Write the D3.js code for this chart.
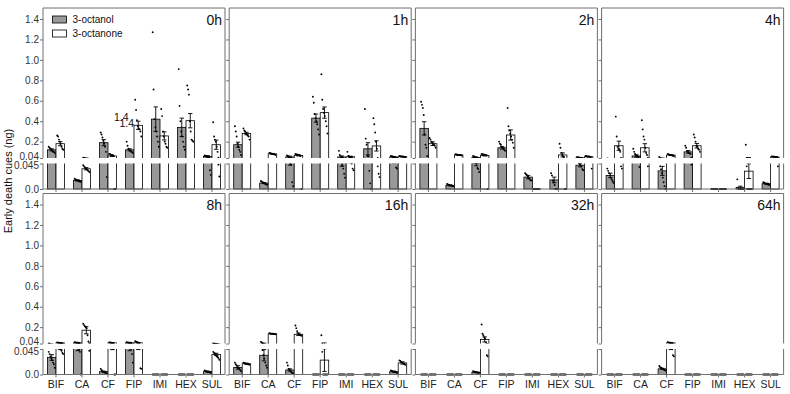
<!DOCTYPE html>
<html>
<head>
<meta charset="utf-8">
<script src="https://cdn.jsdelivr.net/npm/d3@7"></script>
<style>
  body { margin: 0; background: #fff; }
  text { font-family: "Liberation Sans", Arial, sans-serif; }
</style>
</head>
<body>
<svg id="chart" width="790" height="394"></svg>
<script>
// time points and compounds
var times = ["0h", "1h", "2h", "4h", "8h", "16h", "32h", "64h"];
var categories = ["BIF", "CA", "CF", "FIP", "IMI", "HEX", "SUL"];
var series = ["3-octanol", "3-octanone"];
var upperTicks = [0.04, 0.2, 0.4, 0.6, 0.8, 1.0, 1.2, 1.4];
var upperTickLabels = ["0.04", "0.2", "0.4", "0.6", "0.8", "1.0", "1.2", "1.4"];
var lowerTicks = [0, 0.045];
var lowerTickLabels = ["0.0", "0.045"];

// means (ng), one row per time point
var octanolMean = [
  [0.12, 0.015, 0.19, 0.12, 0.42, 0.34, 0.055],
  [0.17, 0.0105, 0.05, 0.43, 0.05, 0.13, 0.05],
  [0.33, 0.0065, 0.045, 0.14, 0.021, 0.016, 0.042],
  [0.024, 0.06, 0.032, 0.1, 0, 0.003, 0.0094],
  [0.03, 0.046, 0.005, 0.046, 0, 0, 0.005],
  [0.0125, 0.034, 0.008, 0, 0, 0, 0.005],
  [0, 0, 0.004, 0, 0, 0, 0],
  [0, 0, 0.01, 0, 0, 0, 0]
];
var octanolSE = [
  [0.01, 0.001, 0.03, 0.01, 0.12, 0.09, 0.008],
  [0.025, 0.001, 0.008, 0.04, 0.01, 0.06, 0.004],
  [0.065, 0.001, 0.004, 0.012, 0.003, 0.005, 0.003],
  [0.004, 0.012, 0.008, 0.012, 0, 0.002, 0.001],
  [0.005, 0.004, 0.001, 0.004, 0, 0, 0.001],
  [0.003, 0.01, 0.002, 0, 0, 0, 0.001],
  [0, 0, 0.0005, 0, 0, 0, 0],
  [0, 0, 0.001, 0, 0, 0, 0]
];
var octanoneMean = [
  [0.18, 0.0357, 0.06, 0.36, 0.256, 0.405, 0.17],
  [0.28, 0.08, 0.065, 0.484, 0.052, 0.158, 0.052],
  [0.18, 0.07, 0.065, 0.265, 0, 0.07, 0.052],
  [0.16, 0.14, 0.069, 0.16, 0, 0.0315, 0.05],
  [0.046, 0.17, 0.046, 0.046, 0, 0, 0.0355],
  [0.019, 0.135, 0.13, 0.0254, 0, 0, 0.0204],
  [0, 0, 0.08, 0, 0, 0, 0],
  [0, 0, 0.046, 0, 0, 0, 0]
];
var octanoneSE = [
  [0.02, 0.002, 0.005, 0.04, 0.04, 0.07, 0.045],
  [0.012, 0.003, 0.005, 0.055, 0.006, 0.05, 0.002],
  [0.018, 0.003, 0.005, 0.05, 0, 0.02, 0.003],
  [0.045, 0.04, 0.003, 0.022, 0, 0.013, 0.002],
  [0.002, 0.035, 0.002, 0.002, 0, 0, 0.002],
  [0.001, 0.003, 0.012, 0.02, 0, 0, 0.002],
  [0, 0, 0.025, 0, 0, 0, 0],
  [0, 0, 0.002, 0, 0, 0, 0]
];

// individual replicates
var Z8 = [0, 0, 0, 0, 0, 0, 0, 0];
var octanolPoints = [
  [ [0.15,0.14,0.13,0.12,0.11,0.1,0.1,0.09],
    [0.018,0.017,0.016,0.015,0.015,0.014,0.013,0.013],
    [0.29,0.27,0.24,0.21,0.18,0.15,0.1,0.021],
    [0.2,0.16,0.13,0.12,0.11,0.1,0.1,0.09],
    [1.27,0.71,0.42,0.34,0.3,0.25,0.2,0.15],
    [0.91,0.55,0.4,0.3,0.25,0.2,0.15,0.12],
    [0.065,0.06,0.058,0.055,0.05,0.048,0.033,0.025] ],
  [ [0.35,0.3,0.25,0.18,0.15,0.12,0.1,0.07],
    [0.014,0.013,0.012,0.011,0.01,0.009,0.008,0.008],
    [0.065,0.06,0.055,0.05,0.044,0.043,0.012,0.005],
    [0.64,0.58,0.47,0.43,0.4,0.37,0.32,0.27],
    [0.11,0.07,0.055,0.05,0.042,0.036,0.027,0.02],
    [0.52,0.23,0.17,0.06,0.057,0.032,0.01,0],
    [0.06,0.058,0.055,0.052,0.05,0.048,0.038,0.036] ],
  [ [0.59,0.56,0.53,0.46,0.27,0.17,0.14,0.06],
    [0.009,0.008,0.007,0.0065,0.006,0.006,0.005,0.005],
    [0.06,0.055,0.05,0.048,0.045,0.037,0.035,0.03],
    [0.2,0.18,0.17,0.15,0.14,0.13,0.12,0.11],
    [0.028,0.026,0.025,0.022,0.02,0.018,0.016,0.015],
    [0.028,0.024,0.015,0.012,0.007,0,0,0],
    [0.05,0.048,0.046,0.044,0.042,0.04,0.035,0.033] ],
  [ [0.036,0.032,0.028,0.024,0.02,0.017,0.014,0.011],
    [0.13,0.1,0.08,0.065,0.06,0.055,0.05,0.039],
    [0.05,0.04,0.035,0.028,0.02,0.012,0.005,0],
    [0.16,0.14,0.11,0.1,0.09,0.085,0.08,0.043],
    Z8,
    [0.017,0.002,0,0,0,0,0,0],
    [0.012,0.011,0.01,0.0095,0.009,0.008,0.008,0.007] ],
  [ [0.04,0.036,0.032,0.028,0.025,0.021,0.018,0.012],
    [0.052,0.05,0.049,0.048,0.047,0.044,0.04,0],
    [0.01,0.008,0.006,0.005,0.004,0.003,0.003,0.002],
    [0.052,0.05,0.049,0.048,0.047,0.045,0.036,0.021],
    Z8,
    Z8,
    [0.007,0.006,0.006,0.005,0.005,0.004,0.004,0.003] ],
  [ [0.021,0.018,0.016,0.013,0.011,0.01,0.008,0.006],
    [0.056,0.05,0.043,0.034,0.028,0.021,0.016,0.012],
    [0.021,0.016,0.01,0.008,0.006,0.004,0.003,0.002],
    Z8,
    Z8,
    Z8,
    [0.007,0.006,0.006,0.005,0.005,0.004,0.004,0.003] ],
  [ Z8, Z8,
    [0.006,0.005,0.005,0.004,0.004,0.003,0.003,0.003],
    Z8, Z8, Z8, Z8 ],
  [ Z8, Z8,
    [0.015,0.013,0.012,0.011,0.01,0.009,0.008,0.007],
    Z8, Z8, Z8, Z8 ]
];
var octanonePoints = [
  [ [0.26,0.25,0.22,0.2,0.18,0.15,0.13,0.12],
    [0.042,0.04,0.038,0.036,0.035,0.033,0.032,0.03],
    [0.08,0.08,0.07,0.07,0.07,0.06,0,0],
    [0.61,0.51,0.41,0.35,0.33,0.32,0.3,0.25],
    [0.52,0.45,0.3,0.25,0.2,0.18,0.15,0.14],
    [0.75,0.71,0.66,0.4,0.3,0.22,0.21,0.2],
    [0.39,0.25,0.22,0.2,0.15,0.1,0.043,0.022] ],
  [ [0.33,0.31,0.3,0.28,0.27,0.26,0.25,0.22],
    [0.09,0.088,0.085,0.082,0.08,0.078,0.075,0.07],
    [0.08,0.075,0.075,0.07,0.07,0.065,0.06,0],
    [0.86,0.61,0.52,0.48,0.45,0.4,0.35,0.28],
    [0.1,0.06,0.055,0.05,0.05,0.045,0.036,0.033],
    [0.43,0.37,0.29,0.2,0.13,0.04,0.027,0.021],
    [0.06,0.058,0.056,0.055,0.054,0.052,0.05,0.05] ],
  [ [0.235,0.22,0.2,0.19,0.18,0.17,0.16,0.14],
    [0.076,0.074,0.072,0.07,0.07,0.068,0.066,0.064],
    [0.08,0.078,0.075,0.072,0.07,0.068,0.065,0],
    [0.53,0.35,0.31,0.28,0.25,0.22,0.19,0.14],
    Z8,
    [0.18,0.14,0.09,0.07,0.057,0.05,0,0],
    [0.06,0.058,0.056,0.055,0.054,0.052,0.05,0.036] ],
  [ [0.445,0.25,0.15,0.13,0.12,0.1,0.04,0.036],
    [0.41,0.32,0.25,0.22,0.14,0.09,0.07,0.04],
    [0.08,0.075,0.072,0.07,0.068,0.065,0.062,0.06],
    [0.27,0.24,0.2,0.16,0.15,0.13,0.12,0.1],
    Z8,
    [0.17,0.04,0,0,0,0,0,0],
    [0.055,0.054,0.053,0.052,0.051,0.05,0.05,0.04] ],
  [ [0.05,0.048,0.047,0.045,0.044,0.042,0.038,0.036],
    [0.233,0.22,0.21,0.2,0.19,0.12,0.06,0.042],
    [0.05,0.05,0.048,0.047,0.046,0.045,0,0],
    [0.062,0.058,0.055,0.05,0.048,0.046,0.011,0.01],
    Z8,
    Z8,
    [0.04,0.038,0.037,0.034,0.032,0.031,0.029,0.026] ],
  [ [0.021,0.02,0.02,0.019,0.019,0.018,0.018,0.017],
    [0.14,0.138,0.136,0.135,0.135,0.134,0.132,0.13],
    [0.216,0.19,0.16,0.14,0.13,0.125,0.12,0.115],
    [0.12,0.04,0,0,0,0,0,0],
    Z8,
    Z8,
    [0.025,0.024,0.022,0.021,0.02,0.019,0.018,0.017] ],
  [ Z8, Z8,
    [0.226,0.135,0.12,0.1,0.09,0.05,0.034,0.032],
    Z8, Z8, Z8, Z8 ],
  [ Z8, Z8,
    [0.052,0.05,0.048,0.047,0.046,0.045,0.034,0.032],
    Z8, Z8, Z8, Z8 ]
];

var means = [octanolMean, octanoneMean];
var ses = [octanolSE, octanoneSE];
var points = [octanolPoints, octanonePoints];
var fills = ["#999999", "#ffffff"];

// layout
var panelLeft = 43, panelStep = 186.2, panelW = 182;
var rowTop0 = 8, rowStep = 185.5;
var frameColor = "#6e6e6e";

var svg = d3.select("#chart");

var x = d3.scaleBand().domain(categories).range([0, panelW]);
var barW = 8.5;
var xs = d3.scaleBand().domain(series)
    .range([x.bandwidth() / 2 - barW, x.bandwidth() / 2 + barW]);

times.forEach(function(t, p) {
  var col = p % 4, row = Math.floor(p / 4);
  var left = panelLeft + col * panelStep;
  var top = rowTop0 + row * rowStep;

  var yUp = d3.scaleLinear().domain([0.04, 1.4]).range([top + 150, top + 11]);
  var yLo = d3.scaleLinear().domain([0, 0.045]).range([top + 181, top + 155.5]);
  var upBottom = yUp(0.04), loTop = yLo(0.045), zeroY = yLo(0);

  var g = svg.append("g").attr("transform", "translate(" + left + ",0)");

  var defs = svg.append("defs");
  defs.append("clipPath").attr("id", "cu" + p)
    .append("rect").attr("x", 0).attr("y", top).attr("width", panelW).attr("height", upBottom - top);
  defs.append("clipPath").attr("id", "cl" + p)
    .append("rect").attr("x", 0).attr("y", loTop).attr("width", panelW).attr("height", zeroY - loTop + 2.5);

  var sections = [
    { y: yUp, clip: "cu" + p, base: upBottom + 12 },
    { y: yLo, clip: "cl" + p, base: zeroY }
  ];

  sections.forEach(function(sec) {
    var sg = g.append("g").attr("clip-path", "url(#" + sec.clip + ")");
    series.forEach(function(s, k) {
      var mean = means[k][p], se = ses[k][p], pts = points[k][p];
      var grp = sg.append("g");
      // bars
      grp.selectAll("rect.bar")
        .data(categories)
        .enter().append("rect")
        .attr("class", "bar")
        .attr("x", function(c) { return x(c) + xs(s); })
        .attr("width", xs.bandwidth())
        .attr("y", function(c, i) { return sec.y(mean[i]); })
        .attr("height", function(c, i) { return Math.max(0, sec.base - sec.y(mean[i])); })
        .attr("fill", fills[k])
        .attr("stroke", "#000")
        .attr("stroke-width", 0.8);
      // error bars
      categories.forEach(function(c, i) {
        if (se[i] <= 0) return;
        var cx = x(c) + xs(s) + xs.bandwidth() / 2;
        var y1 = sec.y(mean[i] + se[i]), y0 = sec.y(Math.max(0, mean[i] - se[i]));
        grp.append("line").attr("x1", cx).attr("x2", cx).attr("y1", y1).attr("y2", y0)
          .attr("stroke", "#000").attr("stroke-width", 0.9);
        [y1, y0].forEach(function(yy) {
          grp.append("line").attr("x1", cx - 2.2).attr("x2", cx + 2.2).attr("y1", yy).attr("y2", yy)
            .attr("stroke", "#000").attr("stroke-width", 0.9);
        });
      });
      // replicate dots spread across bar width
      categories.forEach(function(c, i) {
        var vals = pts[i];
        var bx = x(c) + xs(s);
        grp.selectAll(null)
          .data(vals)
          .enter().append("circle")
          .attr("cx", function(v, j) { return bx + 1.2 + j * (xs.bandwidth() - 2.4) / (vals.length - 1); })
          .attr("cy", function(v) { return sec.y(v); })
          .attr("r", 0.95)
          .attr("fill", "#000");
      });
    });
  });

  // frame (broken at the axis gap)
  var fr = g.append("g").attr("stroke", frameColor).attr("stroke-width", 1).attr("fill", "none");
  fr.append("line").attr("x1", 0).attr("x2", panelW).attr("y1", top).attr("y2", top);
  fr.append("line").attr("x1", 0).attr("x2", panelW).attr("y1", zeroY).attr("y2", zeroY);
  [0, panelW].forEach(function(xx) {
    fr.append("line").attr("x1", xx).attr("x2", xx).attr("y1", top).attr("y2", upBottom);
    fr.append("line").attr("x1", xx).attr("x2", xx).attr("y1", loTop).attr("y2", zeroY);
  });

  // y axes (ticks on every panel, labels on the left column)
  var axUp = d3.axisLeft(yUp).tickValues(upperTicks).tickSize(3).tickSizeOuter(0)
    .tickFormat(function(d, i) { return col === 0 ? upperTickLabels[i] : ""; });
  var axLo = d3.axisLeft(yLo).tickValues(lowerTicks).tickSize(3).tickSizeOuter(0)
    .tickFormat(function(d, i) { return col === 0 ? lowerTickLabels[i] : ""; });
  [axUp, axLo].forEach(function(ax) {
    var a = g.append("g").call(ax);
    a.select(".domain").remove();
    a.selectAll(".tick line").attr("stroke", frameColor);
    a.selectAll(".tick text").attr("fill", "#333").attr("font-size", 10)
      .attr("font-family", "Liberation Sans, Arial, sans-serif").attr("x", -4);
  });
  // nudge the two labels at the break apart a little
  g.selectAll(".tick text").filter(function(d) { return d === 0.04; }).attr("dy", "0.12em");
  g.selectAll(".tick text").filter(function(d) { return d === 0.045; }).attr("dy", "0.5em");

  // x axis
  var axX = d3.axisBottom(x).tickSize(3).tickSizeOuter(0)
    .tickFormat(function(d) { return row === 1 ? d : ""; });
  var xa = g.append("g").attr("transform", "translate(0," + zeroY + ")").call(axX);
  xa.select(".domain").remove();
  xa.selectAll(".tick line").attr("stroke", frameColor);
  xa.selectAll(".tick text").attr("fill", "#222").attr("font-size", 10.5)
    .attr("font-family", "Liberation Sans, Arial, sans-serif").attr("y", 6);

  // time label
  g.append("text").attr("x", panelW - 3).attr("y", top + 16.5)
    .attr("text-anchor", "end").attr("font-size", 14).attr("fill", "#111").text(t);
});

// legend inside the first panel
var leg = svg.append("g").attr("transform", "translate(52.5,16)");
series.forEach(function(s, k) {
  leg.append("rect").attr("x", 0).attr("y", k * 14).attr("width", 14).attr("height", 7)
    .attr("fill", fills[k]).attr("stroke", "#000").attr("stroke-width", 0.8);
  leg.append("text").attr("x", 20).attr("y", k * 14 + 7).attr("font-size", 10)
    .attr("fill", "#111").text(s);
});

// stray labels in the first panel
svg.append("text").attr("x", 114).attr("y", 120.5).attr("font-size", 10.5).attr("fill", "#111").text("1.4");
svg.append("text").attr("x", 119.5).attr("y", 127).attr("font-size", 10.5).attr("fill", "#111").text("1.4");

// y title
svg.append("text")
  .attr("transform", "translate(12,181) rotate(-90)")
  .attr("text-anchor", "middle")
  .attr("font-size", 11)
  .attr("fill", "#111")
  .text("Early death cues (ng)");
</script>
</body>
</html>
